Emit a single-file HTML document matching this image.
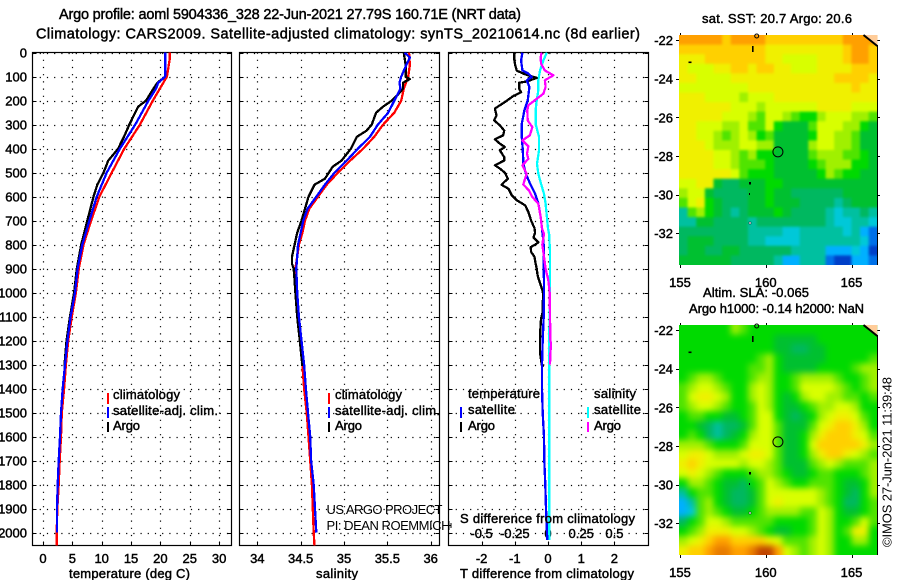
<!DOCTYPE html>
<html>
<head>
<meta charset="utf-8">
<title>Argo profile</title>
<style>
html,body{margin:0;padding:0;background:#fff;width:900px;height:580px;overflow:hidden}
svg{display:block}
text{font-family:"Liberation Sans",sans-serif;font-size:13px;fill:#000;stroke:#000;stroke-width:.45px}
text.thin{stroke:none;font-size:13px}
text.title{font-size:14.5px}
</style>
</head>
<body>
<svg id="chart" xmlns="http://www.w3.org/2000/svg" width="900" height="580" viewBox="0 0 900 580">
<defs>
<clipPath id="clip-t"><rect x="32.5" y="52.5" width="199" height="493"/></clipPath>
<clipPath id="clip-s"><rect x="239.5" y="52.5" width="200" height="493"/></clipPath>
<clipPath id="clip-d"><rect x="448.5" y="52.5" width="200" height="493"/></clipPath>
<clipPath id="clip-map1"><rect x="679" y="35" width="198.3" height="230"/></clipPath>
<clipPath id="clip-map2"><rect x="679" y="325" width="198.3" height="230"/></clipPath>
<filter id="soft-sst" x="-10%" y="-10%" width="120%" height="120%" color-interpolation-filters="sRGB"><feGaussianBlur stdDeviation="1.2"/></filter>
<filter id="soft-sla" x="-10%" y="-10%" width="120%" height="120%" color-interpolation-filters="sRGB"><feGaussianBlur stdDeviation="3.2"/></filter>
</defs>
<text class="title" x="59" y="19" textLength="462">Argo profile: aoml 5904336_328 22-Jun-2021 27.79S 160.71E (NRT data)</text>
<text class="title" x="36" y="38.5" textLength="604">Climatology: CARS2009. Satellite-adjusted climatology: synTS_20210614.nc (8d earlier)</text>
<g id="plots"></g>
<g id="maps"></g>

<text x="69" y="578" textLength="121">temperature (deg C)</text>
<text x="316" y="578" textLength="42">salinity</text>
<text x="460" y="578" textLength="174">T difference from climatology</text>
<text x="460" y="523" textLength="175">S difference from climatology</text>

<g>
<line x1="108" x2="108" y1="393" y2="404" stroke="#f00" stroke-width="2"/>
<line x1="108" x2="108" y1="407" y2="418" stroke="#00f" stroke-width="2"/>
<line x1="108" x2="108" y1="422" y2="432" stroke="#000" stroke-width="2"/>
<text x="113" y="399" textLength="67">climatology</text>
<text x="113" y="415" textLength="105">satellite-adj. clim.</text>
<text x="113" y="430" textLength="27">Argo</text>
</g>
<g>
<line x1="329" x2="329" y1="393" y2="404" stroke="#f00" stroke-width="2"/>
<line x1="329" x2="329" y1="407" y2="418" stroke="#00f" stroke-width="2"/>
<line x1="329" x2="329" y1="422" y2="432" stroke="#000" stroke-width="2"/>
<text x="335" y="399" textLength="67">climatology</text>
<text x="335" y="415" textLength="105">satellite-adj. clim.</text>
<text x="335" y="430" textLength="27">Argo</text>
</g>
<text class="thin" x="326.5" y="514" textLength="116">US ARGO PROJECT</text>
<text class="thin" x="326.5" y="530" textLength="124">PI: DEAN ROEMMICH</text>
<g>
<text x="468" y="398" textLength="72">temperature</text>
<text x="594" y="398" textLength="42">salinity</text>
<line x1="461" x2="461" y1="407" y2="418" stroke="#00f" stroke-width="2"/>
<line x1="461" x2="461" y1="422" y2="432" stroke="#000" stroke-width="2"/>
<line x1="588" x2="588" y1="407" y2="418" stroke="#0ff" stroke-width="2"/>
<line x1="588" x2="588" y1="422" y2="432" stroke="#f0f" stroke-width="2"/>
<text x="468" y="414" textLength="47">satellite</text>
<text x="468" y="430" textLength="27">Argo</text>
<text x="594" y="414" textLength="47">satellite</text>
<text x="594" y="430" textLength="27">Argo</text>
</g>
<path d="M449 525.5H451M451 523V528" stroke="#000" fill="none"/>

<text x="702" y="23" textLength="150">sat. SST: 20.7 Argo: 20.6</text>
<text x="703" y="297" textLength="106">Altim. SLA: -0.065</text>
<text x="689" y="313" textLength="175">Argo h1000: -0.14 h2000: NaN</text>
<text class="thin" transform="translate(891.5 547) rotate(-90)" x="0" y="0" textLength="170">©IMOS 27-Jun-2021 11:39:48</text>

<script>
// Axis ticks
var depthTicks = [0,100,200,300,400,500,600,700,800,900,1000,1100,1200,1300,1400,1500,1600,1700,1800,1900,2000];
var tempTicks = [0,5,10,15,20,25,30];
var salTicks = [34,34.5,35,35.5,36];
var salTickLabels = ['34','34.5','35','35.5','36'];
var tDiffTicks = [-2,-1,0,1,2];
var sDiffTicks = [-0.5,-0.25,0,0.25,0.5];
var sDiffTickLabels = ['-0.5','-0.25','0','0.25','0.5'];
var lonTicks = [155,160,165];
var latTicks = [-22,-24,-26,-28,-30,-32];

// Temperature profiles
var tempClimDepth = [0,25,100,150,200,300,400,500,600,700,800,900,1000,1100,1200,1300,1400,1500,1600,1700,1800,1900,2000,2054];
var tempClim = [21.6,21.6,21.1,19.9,18.7,16.5,13.85,11.7,9.6,8.2,6.9,6.1,5.6,4.9,4.3,3.9,3.6,3.2,3.07,2.84,2.67,2.44,2.33,2.33];
var tempSatDepth = [0,100,125,150,200,300,400,500,600,700,800,900,1000,1100,1200,1300,1400,1500,1600,1700,1800,1900,2000];
var tempSat = [20.8,20.8,19.65,19.25,17.95,15.7,13.1,10.85,9.15,7.9,6.7,5.9,5.45,4.7,4.15,3.75,3.35,3.07,2.9,2.67,2.5,2.38,2.38];
var tempArgoDepth = [0,100,125,150,200,225,300,350,400,450,500,550,600,700,800,900,1000,1100,1200,1305];
var tempArgo = [20.8,20.8,19.5,18.8,17.55,16.2,14.7,13.8,12.8,11.1,10.3,9.25,8.6,7.55,6.5,5.75,5.3,4.6,4.0,3.65];

// Salinity profiles
var salClimDepth = [0,50,100,150,200,250,300,350,400,450,500,550,600,650,700,750,800,850,900,1000,1100,1200,1300,1400,1500,1600,1700,1800,1900,2000,2054];
var salClim = [35.75,35.76,35.74,35.69,35.66,35.58,35.45,35.35,35.22,35.07,34.93,34.8,34.7,34.6,34.55,34.52,34.48,34.46,34.44,34.44,34.46,34.49,34.52,34.54,34.57,34.59,34.61,34.63,34.64,34.65,34.66];
var salSatDepth = [0,20,50,100,125,150,200,250,300,350,400,450,500,550,600,650,700,750,800,850,900,1000,1100,1200,1300,1400,1500,1600,1700,1800,1900,2000];
var salSat = [35.7,35.76,35.72,35.66,35.64,35.65,35.58,35.51,35.39,35.3,35.16,35.03,34.89,34.78,34.68,34.58,34.53,34.5,34.47,34.46,34.45,34.46,34.48,34.51,34.54,34.56,34.585,34.61,34.62,34.65,34.665,34.68];
var salArgoDepth = [0,50,100,110,125,150,175,200,225,250,300,325,350,400,450,475,525,550,600,650,700,750,800,850,880,900,950,1000,1100,1200,1305];
var salArgo = [35.69,35.71,35.71,35.76,35.68,35.68,35.62,35.55,35.45,35.37,35.32,35.26,35.15,35.08,34.97,34.87,34.78,34.66,34.59,34.55,34.51,34.46,34.43,34.4,34.4,34.42,34.43,34.44,34.46,34.49,34.52];

// Differences from climatology
var tDiffSatDepth = [0,32,74,87,101,115,143,199,240,296,351,407,463,504,546,588,629,685,733,800,1000,1100,1200,1300,1400,1500,1600,1700,1800,1900,2000,2030];
var tDiffSat = [-0.77,-0.81,-0.77,-0.59,-0.49,-0.64,-0.56,-0.61,-0.71,-0.79,-0.79,-0.76,-0.74,-0.67,-0.54,-0.39,-0.29,-0.22,-0.18,-0.13,-0.12,-0.13,-0.16,-0.18,-0.18,-0.16,-0.12,-0.11,-0.08,-0.06,-0.03,-0.02];
var tDiffArgoDepth = [0,25,50,75,90,105,120,125,150,165,180,200,233,261,282,303,324,344,361,379,393,407,435,449,469,483,500,525,550,567,594,615,636,664,699,730,750,770,790,800,810,830,850,880,900,930,960,990,1010,1040,1080,1110,1150,1200,1250,1300,1305];
var tDiffArgo = [-1.02,-1.02,-0.99,-0.94,-0.69,-0.34,-0.64,-0.87,-0.87,-0.81,-1.04,-1.24,-1.6,-1.55,-1.62,-1.45,-1.32,-1.35,-1.6,-1.45,-1.3,-1.45,-1.32,-1.32,-1.6,-1.45,-1.3,-1.21,-1.4,-1.19,-1.09,-0.94,-0.69,-0.59,-0.51,-0.41,-0.39,-0.44,-0.29,-0.39,-0.52,-0.51,-0.41,-0.37,-0.34,-0.31,-0.24,-0.17,-0.14,-0.16,-0.16,-0.21,-0.23,-0.24,-0.24,-0.19,-0.12];
var sDiffSatDepth = [0,32,74,115,157,199,240,296,351,407,463,504,546,588,629,685,733,755,830,900,1000,1300,1400,2030];
var sDiffSat = [-0.01,-0.035,-0.06,-0.073,-0.073,-0.085,-0.093,-0.093,-0.068,-0.068,-0.083,-0.073,-0.053,-0.03,-0.018,-0.008,0,0.008,0.015,0.015,0.013,0.008,0.01,0.01];
var sDiffArgoDepth = [0,18,46,74,94,115,143,171,192,219,240,282,310,344,365,390,421,442,469,504,549,574,601,629,685,733,755,800,838,900,950,1000,1100,1200,1212,1250,1300];
var sDiffArgo = [-0.048,-0.055,-0.053,-0.023,0.04,-0.023,-0.018,-0.035,-0.085,-0.148,-0.156,-0.153,-0.118,-0.136,-0.193,-0.148,-0.158,-0.148,-0.193,-0.161,-0.186,-0.143,-0.118,-0.073,-0.055,-0.045,-0.03,-0.043,-0.033,-0.018,0.003,0.013,0.015,0.018,0.023,0.018,0.015];

// Map colour classes, warm to cool
var mapPalette = ['#c04400','#e87c00','#ffa000','#ffd000','#f0f000','#d8ff00','#a0f000','#50e400','#00da00','#00c030','#00b860','#00c0a0','#00c8d8','#00b0ff','#0070e8','#0040c8'];
var sstGrid = [
[2,2,2,2,2,3,2,2,2,2,3,3,3,3,3,3,3,3,3,2,2,2,2],
[3,3,3,3,3,3,3,3,3,3,4,4,4,4,4,4,4,4,4,3,2,2,3],
[4,4,4,3,3,3,3,3,3,3,4,4,5,5,5,5,4,4,4,3,2,2,3],
[4,5,5,5,4,4,3,3,4,3,3,4,4,5,5,5,4,4,4,4,3,3,3],
[4,4,5,5,5,5,4,4,4,4,4,4,4,4,4,4,4,4,3,3,3,3,4],
[5,5,5,5,5,5,5,5,4,4,4,4,4,4,4,4,4,4,4,4,3,4,4],
[4,4,4,5,5,5,5,6,5,5,5,4,4,4,4,4,4,4,4,4,4,4,4],
[4,4,4,4,4,4,5,5,5,6,5,5,5,5,5,5,4,4,4,4,5,5,5],
[4,4,4,4,4,5,5,5,6,7,5,5,6,7,8,8,6,5,5,5,6,6,7],
[4,4,5,5,5,6,6,5,7,7,5,8,9,9,9,7,5,5,5,6,6,8,9],
[4,4,5,5,6,7,6,5,6,8,7,9,9,9,9,8,5,5,6,6,7,9,9],
[4,4,4,5,6,6,6,5,5,6,6,9,9,9,9,6,5,5,6,6,7,9,9],
[4,4,4,4,5,5,6,7,6,8,8,9,9,9,9,7,6,6,6,7,7,8,9],
[4,4,4,4,5,5,6,7,7,7,8,9,9,9,9,8,7,6,6,6,8,8,9],
[4,4,4,4,4,4,5,7,8,8,8,9,9,9,9,9,8,6,7,8,8,9,9],
[5,5,4,4,9,10,10,9,9,9,8,8,9,9,9,9,9,9,9,9,9,9,9],
[6,5,5,9,10,10,10,10,9,9,8,9,9,10,10,10,10,10,10,9,9,9,9],
[7,5,4,8,9,10,10,10,9,9,8,9,9,9,10,10,10,10,11,10,9,9,9],
[11,7,6,8,9,10,11,10,9,9,9,8,9,10,10,10,10,11,12,11,11,10,11],
[11,11,9,9,10,10,10,10,11,10,10,10,10,10,10,10,10,11,12,12,11,11,12],
[10,10,10,10,10,10,10,10,11,11,11,11,12,12,11,11,11,11,11,12,11,13,14],
[10,9,9,9,10,10,10,10,11,11,12,12,12,12,11,11,11,11,11,11,11,12,14],
[10,9,9,10,10,9,9,10,10,10,10,10,10,11,11,11,11,13,13,13,12,13,15],
[9,9,9,9,9,9,10,10,10,10,10,11,13,13,11,11,11,14,15,15,13,13,14]
];
var slaGrid = [
[8,8,8,8,8,8,6,7,8,8,8,8,8,8,8,8,8,8,8,8,8,8,8],
[8,8,8,8,8,8,8,8,8,8,8,9,9,9,9,9,8,8,8,8,8,8,8],
[8,8,8,8,8,8,8,8,8,8,8,9,9,10,10,9,9,8,8,8,8,8,8],
[8,8,8,8,8,8,8,8,8,7,6,8,9,9,9,9,9,8,8,8,8,8,7],
[8,8,8,8,8,8,8,8,7,7,6,8,9,9,9,9,8,8,8,8,7,6,6],
[8,7,6,6,7,8,8,8,7,6,6,8,8,7,6,6,6,6,7,8,8,7,6],
[7,6,5,5,6,7,8,8,6,5,6,8,8,7,5,5,5,5,6,7,8,7,6],
[7,5,4,4,5,6,8,8,6,5,6,8,9,8,6,5,5,6,6,7,7,8,7],
[7,6,5,5,6,7,8,8,7,5,6,8,9,9,8,7,6,6,5,5,6,8,8],
[8,7,7,8,8,9,9,8,7,5,5,8,9,10,9,8,6,5,4,4,5,7,8],
[8,8,9,10,11,10,10,9,7,5,5,7,9,9,9,7,5,4,3,3,4,6,8],
[8,7,8,10,11,10,9,8,6,5,5,7,9,9,8,6,4,3,3,3,4,5,7],
[6,6,6,7,8,8,8,7,5,5,5,7,9,9,8,5,3,3,3,3,3,4,6],
[5,4,4,5,6,6,6,5,4,4,5,7,9,9,8,6,4,3,3,4,5,6,7],
[4,3,4,5,5,5,5,6,5,5,6,7,9,9,9,7,6,5,6,7,7,7,6],
[5,4,5,6,7,8,8,8,7,6,6,7,8,9,9,8,7,7,8,8,8,7,6],
[8,6,6,7,8,9,9,10,8,7,5,6,7,8,8,7,7,7,8,9,9,8,6],
[11,8,7,7,8,9,10,10,9,7,5,5,5,5,5,5,6,7,8,9,10,8,6],
[13,11,7,6,8,9,10,10,9,7,5,4,5,5,5,5,6,7,8,10,10,8,7],
[13,12,7,6,7,8,9,9,8,7,6,6,6,6,7,7,5,6,8,9,9,8,7],
[10,8,7,5,5,6,7,7,7,7,7,8,8,8,8,7,5,6,8,8,7,5,7],
[8,7,6,4,4,4,5,5,6,7,8,9,9,8,8,7,5,6,8,7,4,4,8],
[6,5,4,3,2,2,3,3,3,3,4,5,7,7,7,6,5,6,8,8,6,6,8],
[4,3,3,2,1,1,2,2,1,0,0,2,5,6,7,6,5,6,8,8,8,8,8]
];
var floatLon = 160.71;
var floatLat = -27.79;

var NS = 'http://www.w3.org/2000/svg';
var plots = document.getElementById('plots');
var maps = document.getElementById('maps');

function make(tag, attrs, parent) {
  var el = document.createElementNS(NS, tag);
  for (var k in attrs) el.setAttribute(k, attrs[k]);
  parent.appendChild(el);
  return el;
}
function depthY(d) { return 52.7 + d * 0.24; }
var tempX = function (v) { return 43 + v * 5.87; };
var salX = function (v) { return 257.3 + (v - 34) * 86.7; };
var tDiffX = function (v) { return 548 + v * 33.2; };
var sDiffX = function (v) { return 548 + v * 132.8; };
function lonX(v) { return 680 + (v - 155) * 17.15; }
function latY(v, top) { return top + 5 + (-22 - v) * 19.32; }

function drawFrame(x0, x1, xTicks, xScale) {
  var g = make('g', {}, plots);
  
  
  depthTicks.forEach(function (d) {
    var y = Math.round(depthY(d)) + 0.5;
    var grid = make('line', {x1: x0, x2: x1, y1: y, y2: y, stroke: '#000', 'stroke-width': 1.2, 'stroke-dasharray': '1.2 6'}, g);
    
    
    var tickL = make('line', {x1: x0, x2: x0 + 4, y1: y, y2: y, stroke: '#000'}, g);
    
    
    var tickR = make('line', {x1: x1 - 4, x2: x1, y1: y, y2: y, stroke: '#000'}, g);
    
    
  });
  xTicks.forEach(function (v) {
    var x = Math.round(xScale(v)) + 0.5;
    var grid = make('line', {x1: x, x2: x, y1: 52.5, y2: 545.5, stroke: '#000', 'stroke-width': 1.2, 'stroke-dasharray': '1.2 6'}, g);
    
    
    var tick = make('line', {x1: x, x2: x, y1: 541.5, y2: 545.5, stroke: '#000'}, g);
    
    
  });
  var frame = make('rect', {x: x0, y: 52.5, width: x1 - x0, height: 493, fill: 'none', stroke: '#000', 'stroke-width': 1.2}, g);
  
  
}
function drawSeries(depths, values, xScale, color, clip, name) {
  var pts = depths.map(function (d, i) { return xScale(values[i]).toFixed(1) + ',' + depthY(d).toFixed(1); }).join(' ');
  var line = make('polyline', {points: pts, fill: 'none', stroke: color, 'stroke-width': 2.3, 'clip-path': 'url(#' + clip + ')', 'stroke-linejoin': 'round', 'shape-rendering': 'crispEdges'}, plots);
  
  
}
function xLabels(ticks, labels, xScale, baseline, name) {
  ticks.forEach(function (v, i) {
    var t = make('text', {x: xScale(v), y: baseline, 'text-anchor': 'middle'}, plots);
    t.textContent = labels ? labels[i] : String(v);
    
    
  });
}

drawFrame(32.5, 231.5, tempTicks, tempX);
drawFrame(239.5, 439.5, salTicks, salX);
drawFrame(448.5, 648.5, tDiffTicks, tDiffX);

depthTicks.forEach(function (d) {
  var t = make('text', {x: 27, y: depthY(d) + 5, 'text-anchor': 'end'}, plots);
  t.textContent = String(d);
  
  
});
xLabels(tempTicks, null, tempX, 563, 'temperature-tick-label');
xLabels(salTicks, salTickLabels, salX, 563, 'salinity-tick-label');
xLabels(tDiffTicks, null, tDiffX, 563, 't-difference-tick-label');
xLabels(sDiffTicks, sDiffTickLabels, sDiffX, 538, 's-difference-tick-label');

drawSeries(tempClimDepth, tempClim, tempX, '#f00', 'clip-t', 'temperature-climatology-line');
drawSeries(tempArgoDepth, tempArgo, tempX, '#000', 'clip-t', 'temperature-argo-line');
drawSeries(tempSatDepth, tempSat, tempX, '#00f', 'clip-t', 'temperature-satellite-line');
drawSeries(salClimDepth, salClim, salX, '#f00', 'clip-s', 'salinity-climatology-line');
drawSeries(salArgoDepth, salArgo, salX, '#000', 'clip-s', 'salinity-argo-line');
drawSeries(salSatDepth, salSat, salX, '#00f', 'clip-s', 'salinity-satellite-line');
drawSeries(sDiffSatDepth, sDiffSat, sDiffX, '#0ff', 'clip-d', 's-difference-satellite-line');
drawSeries(tDiffArgoDepth, tDiffArgo, tDiffX, '#000', 'clip-d', 't-difference-argo-line');
drawSeries(tDiffSatDepth, tDiffSat, tDiffX, '#00f', 'clip-d', 't-difference-satellite-line');
drawSeries(sDiffArgoDepth, sDiffArgo, sDiffX, '#f0f', 'clip-d', 's-difference-argo-line');

function drawMap(grid, top, labelBaseline, cellName, clipId, filterId) {
  var left = 679, w = 198.3, h = 230;
  var rows = grid.length, cols = grid[0].length;
  var cw = w / cols, ch = h / rows;
  var outer = make('g', {'clip-path': 'url(#' + clipId + ')'}, maps);
  
  
  var g = make('g', {filter: 'url(#' + filterId + ')'}, outer);
  
  
  grid.forEach(function (row, r) {
    row.forEach(function (v, c) {
      // Edge cells extend past the clip so the blur does not fade to white at the borders
      var x0 = c === 0 ? left - 14 : left + c * cw;
      var x1 = c === cols - 1 ? left + w + 14 : left + (c + 1) * cw + 0.6;
      var y0 = r === 0 ? top - 14 : top + r * ch;
      var y1 = r === rows - 1 ? top + h + 14 : top + (r + 1) * ch + 0.6;
      var cell = make('rect', {x: x0.toFixed(2), y: y0.toFixed(2), width: (x1 - x0).toFixed(2), height: (y1 - y0).toFixed(2), fill: mapPalette[v]}, g);
      
      
    });
  });
  var land = make('polygon', {points: '865,' + top + ' 877.3,' + top + ' 877.3,' + (top + 10), fill: '#ffcc99'}, maps);
  
  
  var coast = make('polyline', {points: '863.5,' + top + ' 877.3,' + (top + 11), fill: 'none', stroke: '#000', 'stroke-width': 2}, maps);
  
  
  var edge = make('line', {x1: 877.5, x2: 877.5, y1: top + 10, y2: top + h, stroke: '#000', 'stroke-width': 1}, maps);
  
  

  var isle1 = make('circle', {cx: 756.7, cy: top + 1, r: 2, fill: 'none', stroke: '#000'}, maps);
  
  
  var isle2 = make('rect', {x: 752, y: top + 11, width: 1.6, height: 6, fill: '#000'}, maps);
  
  
  var isle3 = make('rect', {x: 688.5, y: top + 26.5, width: 3, height: 1.6, fill: '#000'}, maps);
  
  
  var isle4 = make('rect', {x: 749, y: top + 147, width: 2, height: 2.5, fill: '#000'}, maps);
  
  
  var isle5 = make('rect', {x: 749, y: top + 158, width: 1, height: 2, fill: '#000'}, maps);
  
  
  var isle6 = make('rect', {x: 749, y: top + 187, width: 2, height: 2, fill: '#fff', stroke: '#000', 'stroke-width': 0.4}, maps);
  
  

  lonTicks.forEach(function (v) {
    var x = Math.round(lonX(v)) + 0.5;
    var t1 = make('line', {x1: x, x2: x, y1: top - 2, y2: top, stroke: '#000'}, maps);
    
    
    var t2 = make('line', {x1: x, x2: x, y1: top + h, y2: top + h + 3, stroke: '#000'}, maps);
    
    
    var lab = make('text', {x: lonX(v), y: labelBaseline, 'text-anchor': 'middle'}, maps);
    lab.textContent = String(v);
    
    
  });
  latTicks.forEach(function (v) {
    var y = Math.round(latY(v, top)) + 0.5;
    var t1 = make('line', {x1: 676, x2: 679, y1: y, y2: y, stroke: '#000'}, maps);
    
    
    var t2 = make('line', {x1: 877.3, x2: 880, y1: y, y2: y, stroke: '#000'}, maps);
    
    
    var lab = make('text', {x: 673, y: latY(v, top) + 5, 'text-anchor': 'end'}, maps);
    lab.textContent = String(v);
    
    
  });
  var marker = make('circle', {cx: lonX(floatLon), cy: latY(floatLat, top), r: 5, fill: 'none', stroke: '#000', 'stroke-width': 1}, maps);
  
  
}
drawMap(sstGrid, 35, 287, 'sst-cell', 'clip-map1', 'soft-sst');
drawMap(slaGrid, 325, 577, 'sla-cell', 'clip-map2', 'soft-sla');
</script>
</svg>
</body>
</html>
